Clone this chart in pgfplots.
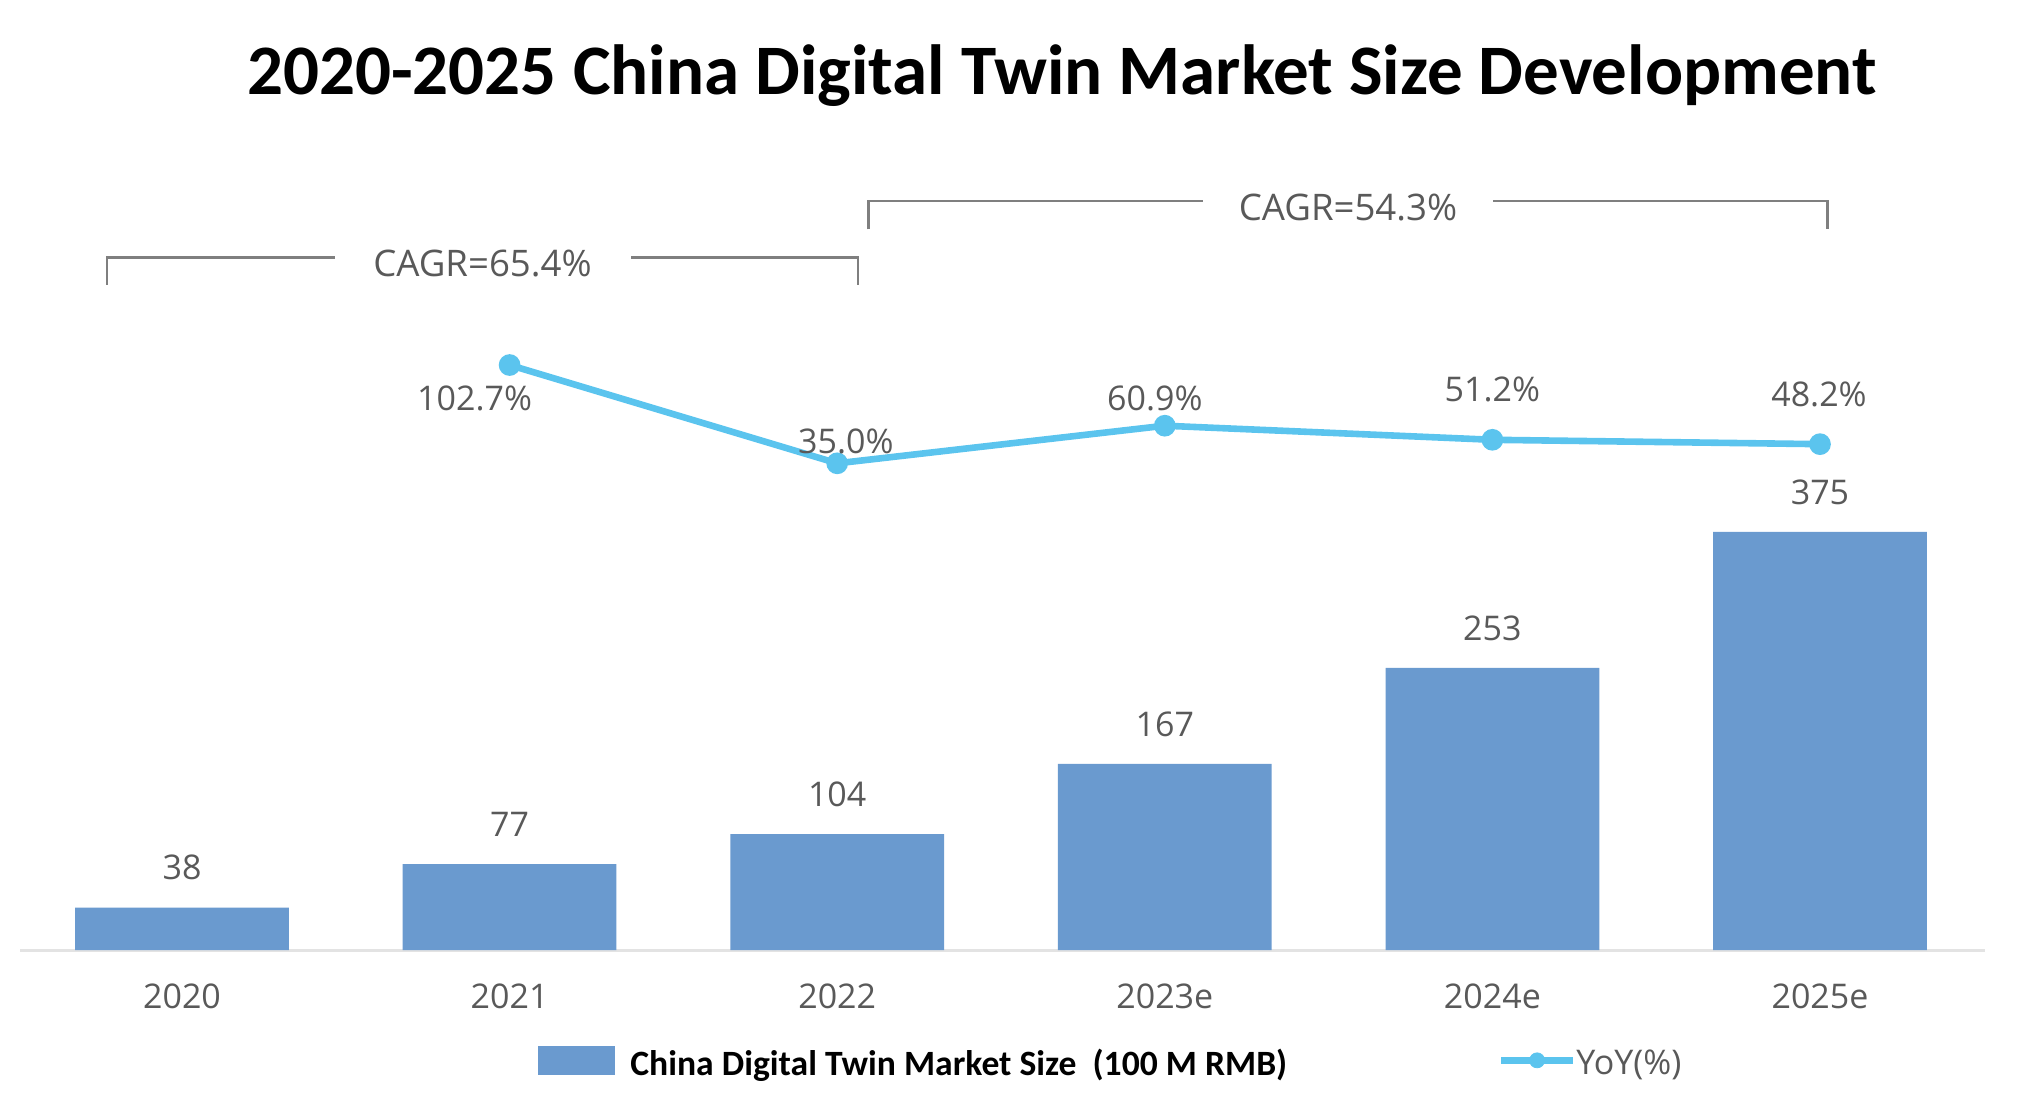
\documentclass[border=0pt]{standalone}
\usepackage{fontspec}
\usepackage{pgfplots}
\pgfplotsset{compat=1.18}
\setmainfont{Open Sans}
\newfontfamily\carlito{Carlito}
\definecolor{barblue}{HTML}{6A9ACF}
\definecolor{lineblue}{HTML}{5BC4EE}
\definecolor{txtgray}{HTML}{595959}
\definecolor{brgray}{HTML}{7F7F7F}
\definecolor{axgray}{HTML}{E3E3E3}
\newcommand\lab{\fontsize{17}{20}\selectfont}
\newcommand\cagr{\fontsize{18.3}{21}\selectfont}
\begin{document}
\begin{tikzpicture}
\useasboundingbox (0,0) rectangle (1009pt,557pt);
\pgfplotsset{
  common/.style={
    at={(10pt,82pt)}, anchor=south west,
    width=982.5pt, height=400pt, scale only axis,
    xmin=-0.4945, xmax=5.5037,
    clip=false,
    /pgf/number format/assume math mode=true,
  }
}
\begin{axis}[common,
  ymin=0, ymax=717.5,
  axis y line=none,
  axis x line=bottom,
  x axis line style={draw=axgray, line width=1.5pt, -},
  xtick={0,1,2,3,4,5},
  xticklabels={2020,2021,2022,2023e,2024e,2025e},
  xtick style={draw=none},
  major tick length=0pt,
  xticklabel style={font=\lab, text=txtgray, anchor=base, yshift=-29pt},
  ybar, bar width=0.6526,
  nodes near coords,
  nodes near coords style={font=\lab, text=txtgray, anchor=base, yshift=13.85pt},
]
\addplot[fill=barblue, draw=none] coordinates {(0,38) (1,77) (2,104) (3,167) (4,253) (5,375)};
\end{axis}
\begin{axis}[common,
  ymin=-300.2, ymax=250.8,
  hide axis,
  legend columns=2,
  legend style={at={(0.2636,-0.14)}, anchor=west, draw=none, fill=none,
    inner sep=0pt, outer sep=0pt, nodes={inner sep=0pt},
    /tikz/every even column/.append style={column sep=105.3pt}},
]
\addlegendimage{legend image code/.code={\fill[barblue] (0pt,-5.5pt) rectangle (38pt,8.5pt);}}
\addlegendentry{\hspace{7.8pt}{\fontsize{17.8}{21}\selectfont\carlito\bfseries China Digital Twin Market Size\ \ (100 M RMB)}}
\addlegendimage{legend image code/.code={\draw[lineblue, line width=3.3pt] (0pt,1.5pt) -- (36pt,1.5pt); \fill[lineblue] (18pt,1.5pt) circle (3.75pt);}}
\addlegendentry{{\lab\color{txtgray}YoY(\%)}}
\addplot[lineblue, line width=3.3pt, mark=*, mark size=3.75pt,
  mark options={draw=none, fill=lineblue},
  forget plot,
  point meta=y,
  visualization depends on={\thisrow{dx}\as\dx},
  visualization depends on={\thisrow{dy}\as\dy},
  nodes near coords={\pgfmathprintnumber[fixed,fixed zerofill,precision=1]{\pgfplotspointmeta}\%},
  nodes near coords style={font=\lab, text=txtgray, anchor=base, xshift=\dx pt, yshift=\dy pt},
] table[x=x, y=y] {
x y dx dy
1 102.7 -17.5 -22.5
2 35.0 4.35 5.15
3 60.9 -5 7.5
4 51.2 0 19
5 48.2 -0.5 18.65
};
\end{axis}
\node[anchor=base, font=\fontsize{35.5}{42}\selectfont\carlito\bfseries] at (531pt,509.5pt) {2020-2025 China Digital Twin Market Size Development};
\draw[brgray, line width=1.3pt] (53.5pt,414.5pt) |- (167.5pt,428.3pt);
\draw[brgray, line width=1.3pt] (315.5pt,428.3pt) -| (429pt,414.5pt);
\node[font=\cagr, text=txtgray, anchor=base] at (241.25pt,418.5pt) {CAGR=65.4\%};
\draw[brgray, line width=1.3pt] (434.3pt,442.35pt) |- (601.5pt,456.5pt);
\draw[brgray, line width=1.3pt] (746.5pt,456.5pt) -| (913.75pt,442.35pt);
\node[font=\cagr, text=txtgray, anchor=base] at (674pt,446.5pt) {CAGR=54.3\%};
\end{tikzpicture}
\end{document}
